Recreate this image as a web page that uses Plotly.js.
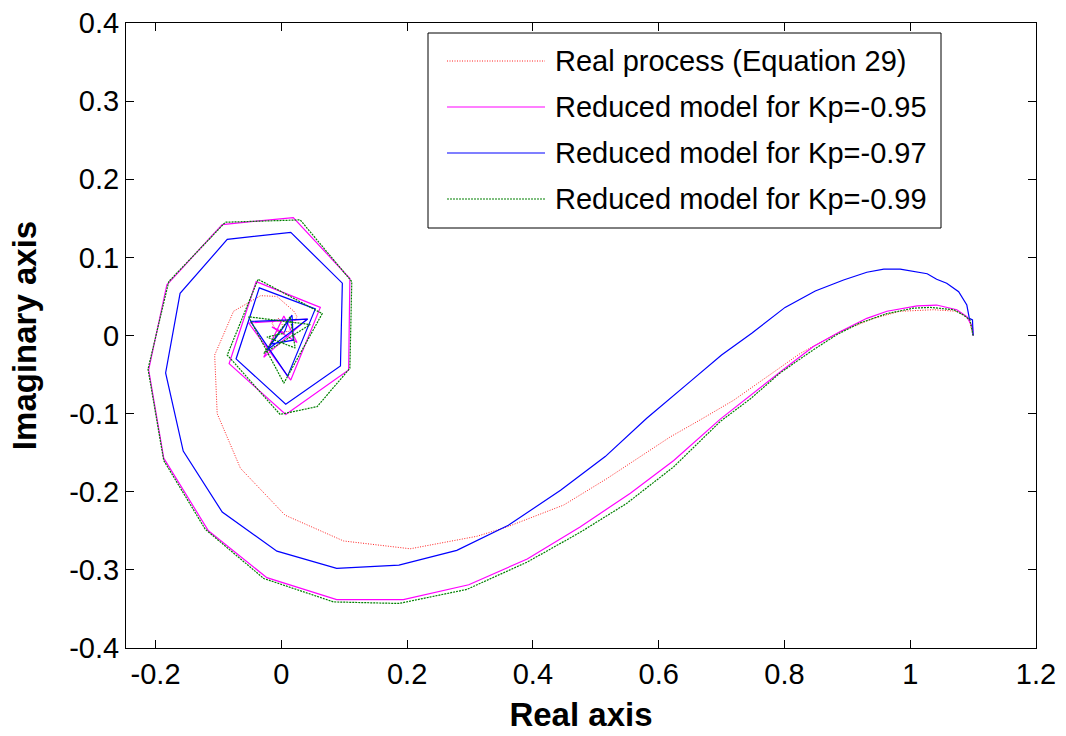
<!DOCTYPE html>
<html>
<head>
<meta charset="utf-8">
<script src="https://cdn.plot.ly/plotly-3.0.1.min.js"></script>
<style>html,body{margin:0;padding:0;background:#fff;}#chart{width:1066px;height:736px;}</style>
</head>
<body>
<div id="chart"></div>
<script>
// ---- data ----
const seriesNames = [
  "Real process (Equation 29)",
  "Reduced model for Kp=-0.95",
  "Reduced model for Kp=-0.97",
  "Reduced model for Kp=-0.99"
];

const realX = [1.1, 1.093, 1.074, 1.037, 0.984, 0.942, 0.889, 0.825, 0.772, 0.719, 0.666, 0.618, 0.518, 0.449, 0.359, 0.311, 0.205, 0.099, 0.006, -0.065, -0.102, -0.106, -0.076, -0.033, -0.007, 0.020, 0.025, 0.012, -0.007, -0.015, -0.004, 0.004];
const realY = [0, 0.022, 0.031, 0.033, 0.031, 0.022, 0.005, -0.023, -0.053, -0.083, -0.108, -0.130, -0.183, -0.217, -0.245, -0.257, -0.273, -0.263, -0.230, -0.170, -0.100, -0.025, 0.031, 0.051, 0.050, 0.031, 0.024, 0.005, 0.005, 0.016, 0.022, 0.010];

const kp95X = [1.1, 1.099, 1.090, 1.074, 1.042, 1.011, 0.963, 0.931, 0.889, 0.846, 0.804, 0.751, 0.698, 0.624, 0.555, 0.475, 0.391, 0.298, 0.194, 0.088, -0.023, -0.116, -0.187, -0.211, -0.182, -0.094, 0.019, 0.109, 0.107, 0.007, -0.083, -0.040, 0.062, 0.015, -0.052, 0.041, -0.028, 0.004, 0.025, -0.015, 0.005];
const kp95Y = [0, 0.011, 0.024, 0.033, 0.039, 0.038, 0.031, 0.022, 0.005, -0.014, -0.040, -0.074, -0.107, -0.160, -0.202, -0.245, -0.286, -0.319, -0.338, -0.338, -0.310, -0.250, -0.157, -0.044, 0.065, 0.142, 0.151, 0.073, -0.044, -0.101, -0.036, 0.069, 0.036, -0.057, 0.016, 0.021, -0.028, 0.025, -0.009, 0.011, 0.003];

const kp97X = [1.1, 1.099, 1.094, 1.090, 1.077, 1.058, 1.042, 1.027, 0.984, 0.958, 0.931, 0.894, 0.849, 0.801, 0.748, 0.700, 0.650, 0.581, 0.515, 0.444, 0.361, 0.279, 0.187, 0.088, -0.007, -0.094, -0.156, -0.184, -0.161, -0.086, 0.015, 0.097, 0.094, 0.007, -0.072, -0.035, 0.054, 0.010, -0.049, 0.042, -0.023, 0.017, 0.019, -0.017, 0.012, 0.005];
const kp97Y = [0, 0.020, 0.022, 0.039, 0.056, 0.067, 0.072, 0.079, 0.085, 0.085, 0.081, 0.071, 0.057, 0.036, 0.003, -0.025, -0.059, -0.106, -0.155, -0.198, -0.243, -0.275, -0.294, -0.298, -0.276, -0.226, -0.148, -0.048, 0.054, 0.123, 0.132, 0.067, -0.039, -0.088, -0.030, 0.061, 0.034, -0.052, 0.018, 0.021, -0.019, 0.026, -0.006, -0.011, 0.020, 0.004];

const kp99X = [1.1, 1.095, 1.085, 1.069, 1.032, 1.005, 0.963, 0.920, 0.883, 0.841, 0.793, 0.746, 0.698, 0.624, 0.549, 0.475, 0.391, 0.295, 0.187, 0.083, -0.028, -0.121, -0.187, -0.212, -0.179, -0.089, 0.030, 0.112, 0.109, 0.057, -0.002, -0.086, -0.037, 0.065, 0.004, -0.052, 0.046, -0.028, 0.014, 0.022, -0.023, 0.005];
const kp99Y = [0, 0.020, 0.026, 0.033, 0.036, 0.035, 0.028, 0.016, 0.001, -0.021, -0.048, -0.081, -0.110, -0.168, -0.215, -0.252, -0.290, -0.325, -0.343, -0.341, -0.311, -0.248, -0.160, -0.043, 0.069, 0.145, 0.148, 0.069, -0.042, -0.091, -0.101, -0.025, 0.072, 0.028, -0.061, 0.024, 0.014, -0.023, 0.024, -0.016, -0.002, 0.003];

const xTickVals = [-0.2, 0, 0.2, 0.4, 0.6, 0.8, 1, 1.2];
const xTickText = ["-0.2", "0", "0.2", "0.4", "0.6", "0.8", "1", "1.2"];
const yTickVals = [-0.4, -0.3, -0.2, -0.1, 0, 0.1, 0.2, 0.3, 0.4];
const yTickText = ["-0.4", "-0.3", "-0.2", "-0.1", "0", "0.1", "0.2", "0.3", "0.4"];

// ---- styles ----
const styles = [
  {color: "#ff2020", width: 1, dash: "1px,1.5px"},
  {color: "#ff00ff", width: 1.2, dash: "solid"},
  {color: "#0000ff", width: 1.2, dash: "solid"},
  {color: "#008000", width: 1.2, dash: "2px,1px"}
];
const xs = [realX, kp95X, kp97X, kp99X];
const ys = [realY, kp95Y, kp97Y, kp99Y];

const traces = seriesNames.map((n, i) => ({
  x: xs[i], y: ys[i], name: n, type: "scatter", mode: "lines",
  line: {color: styles[i].color, width: styles[i].width, dash: styles[i].dash},
  showlegend: false
}));

// plot area in pixels
const L = 126, R = 1036, T = 23, B = 648;
const W = 1066, H = 736;
const px = v => (v - L) / (R - L);
const py = v => 1 - (v - T) / (B - T);

const legRows = [61, 107, 153, 199];
const shapes = [{
  type: "rect", xref: "paper", yref: "paper",
  x0: px(428), x1: px(941), y0: py(228), y1: py(33),
  line: {color: "#000", width: 1}, fillcolor: "#fff", layer: "above"
}];
const annotations = [];
legRows.forEach((r, i) => {
  shapes.push({
    type: "line", xref: "paper", yref: "paper",
    x0: px(447), x1: px(545), y0: py(r), y1: py(r),
    line: {color: styles[i].color, width: styles[i].width, dash: styles[i].dash},
    layer: "above"
  });
  annotations.push({
    xref: "paper", yref: "paper", x: px(553), y: py(r),
    xanchor: "left", yanchor: "middle", showarrow: false,
    text: seriesNames[i],
    font: {family: "Liberation Sans, Arial, sans-serif", size: 29, color: "#000"}
  });
});

const axisCommon = {
  showgrid: false, zeroline: false,
  showline: true, linecolor: "#000", linewidth: 1, mirror: "ticks",
  ticks: "inside", ticklen: 8, tickcolor: "#000", tickwidth: 1,
  tickfont: {family: "Liberation Sans, Arial, sans-serif", size: 29, color: "#000"},
  tickmode: "array"
};

const layout = {
  width: W, height: H,
  margin: {l: L, r: W - R, t: T, b: H - B},
  paper_bgcolor: "#fff", plot_bgcolor: "#fff",
  showlegend: false,
  xaxis: Object.assign({}, axisCommon, {
    range: [-0.247, 1.2], tickvals: xTickVals, ticktext: xTickText,
    title: {text: "Real axis", standoff: 14,
      font: {family: "Liberation Sans, Arial, sans-serif", size: 33, color: "#000", weight: "bold"}}
  }),
  yaxis: Object.assign({}, axisCommon, {
    range: [-0.4, 0.4], tickvals: yTickVals, ticktext: yTickText,
    title: {text: "Imaginary axis", standoff: 22,
      font: {family: "Liberation Sans, Arial, sans-serif", size: 33, color: "#000", weight: "bold"}}
  }),
  shapes: shapes,
  annotations: annotations
};

Plotly.newPlot("chart", traces, layout, {staticPlot: true, displayModeBar: false});
</script>
</body>
</html>
